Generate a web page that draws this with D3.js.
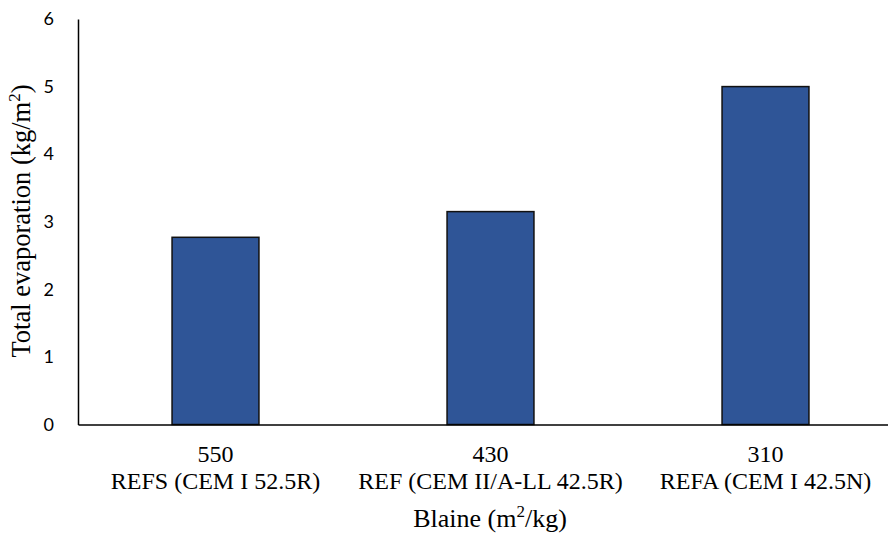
<!DOCTYPE html>
<html><head><meta charset="utf-8">
<script src="https://cdn.jsdelivr.net/npm/d3@7"></script>
<style>body{margin:0;background:#fff}</style>
</head><body>
<svg id="c" width="888" height="533"></svg>
<script>
const blaine = ["550", "430", "310"];
const cements = ["REFS (CEM I 52.5R)", "REF (CEM II/A-LL 42.5R)", "REFA (CEM I 42.5N)"];
const evaporation = [2.77, 3.15, 5.0];
const yTicks = [0, 1, 2, 3, 4, 5, 6];

(function () {
const SERIF = "Liberation Serif";
const svg = d3.select("#c");
const mLeft = 78, mRight = 903, mTop = 19, mBottom = 424.5;
const x = d3.scaleBand().domain(blaine).range([mLeft, mRight]).padding(0);
const y = d3.scaleLinear().domain([0, 6]).range([mBottom, mTop]);
const bw = x.bandwidth() * 0.316;

svg.selectAll("rect.bar").data(evaporation).join("rect")
  .attr("class", "bar")
  .attr("x", (d, i) => x(blaine[i]) + x.bandwidth() / 2 - bw / 2)
  .attr("y", d => y(d))
  .attr("width", bw)
  .attr("height", d => y(0) - y(d))
  .attr("fill", "#2F5597")
  .attr("stroke", "#111")
  .attr("stroke-width", 1.5);

// y axis
const ya = svg.append("g").attr("transform", `translate(${mLeft},0)`)
  .call(d3.axisLeft(y).tickValues(yTicks).tickSize(0).tickPadding(24).tickFormat(d3.format("d")));
ya.select(".domain").attr("stroke", "#000").attr("stroke-width", 1.5);
ya.selectAll("text").style("font-family", "Lato").style("font-size", "18px").attr("fill", "#000");

// x axis
const xa = svg.append("g").attr("transform", `translate(0,${mBottom})`)
  .call(d3.axisBottom(x).tickSize(0).tickFormat(() => ""));
xa.select(".domain").attr("stroke", "#000").attr("stroke-width", 1.5);

svg.selectAll("text.xl1").data(blaine).join("text")
  .attr("class", "xl1")
  .attr("x", d => x(d) + x.bandwidth() / 2)
  .attr("y", 462)
  .attr("text-anchor", "middle")
  .style("font-family", SERIF).style("font-size", "24px")
  .text(d => d);
svg.selectAll("text.xl2").data(cements).join("text")
  .attr("class", "xl2")
  .attr("x", (d, i) => x(blaine[i]) + x.bandwidth() / 2)
  .attr("y", 489)
  .attr("text-anchor", "middle")
  .style("font-family", SERIF).style("font-size", "24px")
  .text(d => d);

// x title
const xt = svg.append("text")
  .attr("x", 490).attr("y", 526.5)
  .attr("text-anchor", "middle")
  .style("font-family", SERIF).style("font-size", "26px");
xt.append("tspan").text("Blaine (m");
xt.append("tspan").attr("dy", -10).style("font-size", "17px").text("2");
xt.append("tspan").attr("dy", 10).text("/kg)");

// y title
const yt = svg.append("text")
  .attr("transform", "translate(30,221) rotate(-90)")
  .attr("text-anchor", "middle")
  .style("font-family", SERIF).style("font-size", "26.5px");
yt.append("tspan").text("Total evaporation (kg/m");
yt.append("tspan").attr("dy", -10).style("font-size", "17px").text("2");
yt.append("tspan").attr("dy", 10).text(")");
})();
</script>
</body></html>
